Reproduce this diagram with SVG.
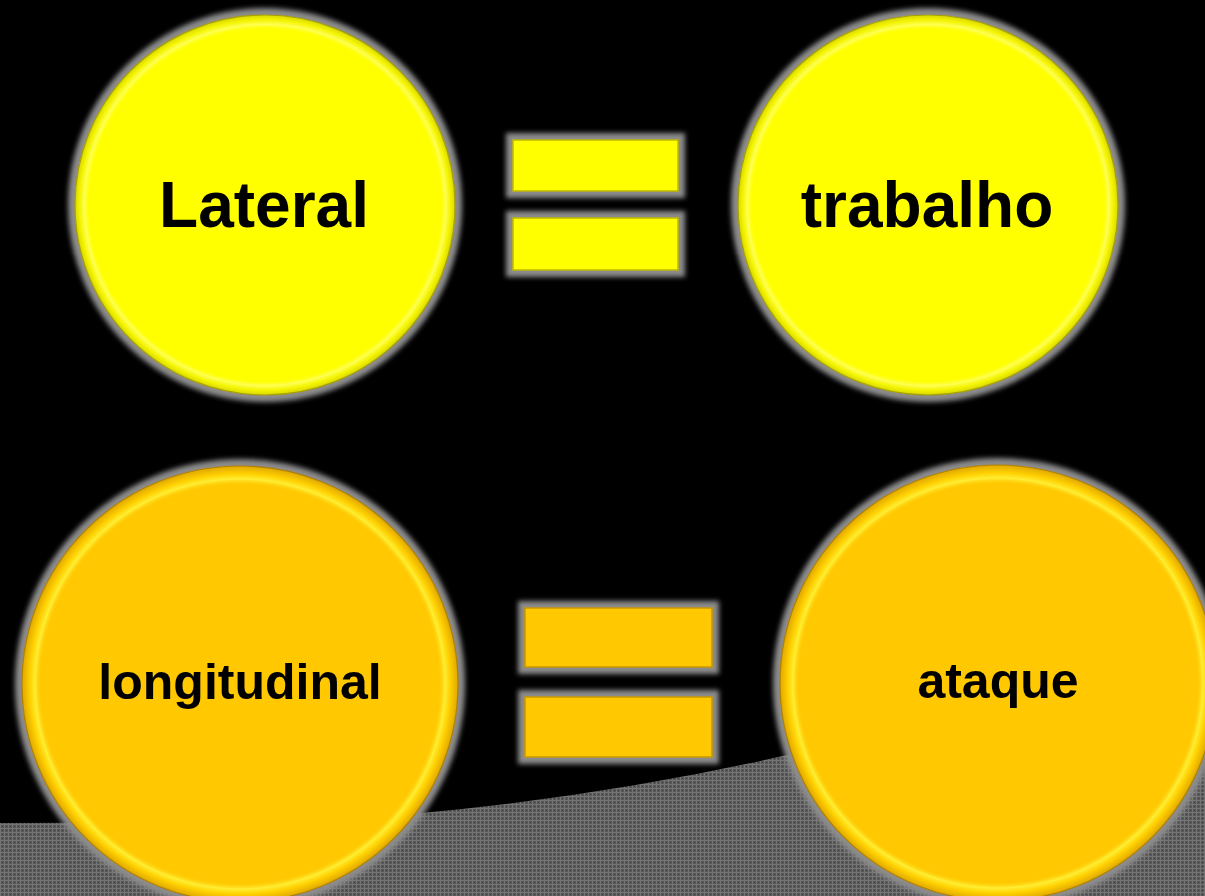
<svg xmlns="http://www.w3.org/2000/svg" width="1205" height="896" viewBox="0 0 1205 896">
  <defs>
    <pattern id="grid" width="4" height="4" patternUnits="userSpaceOnUse">
      <rect width="4" height="4" fill="#585858"/>
      <rect x="0" y="0" width="4" height="1" fill="#747474"/>
      <rect x="0" y="0" width="1" height="4" fill="#747474"/>
      <rect x="2" y="2" width="1" height="1" fill="#3c3c3c"/>
    </pattern>
    <filter id="glow" x="-20%" y="-20%" width="140%" height="140%">
      <feGaussianBlur stdDeviation="2.5"/>
    </filter>
    <radialGradient id="rimY" cx="0.5" cy="0.5" r="0.5">
      <stop offset="0.92" stop-color="#ffff00" stop-opacity="0"/>
      <stop offset="0.95" stop-color="#ffff55"/>
      <stop offset="0.975" stop-color="#f4f400"/>
      <stop offset="1" stop-color="#d8d800"/>
    </radialGradient>
    <radialGradient id="rimO" cx="0.5" cy="0.5" r="0.5">
      <stop offset="0.91" stop-color="#ffc800" stop-opacity="0"/>
      <stop offset="0.94" stop-color="#ffee33"/>
      <stop offset="0.965" stop-color="#ffd000"/>
      <stop offset="1" stop-color="#e0a800"/>
    </radialGradient>
    <style>
      .glow { fill: #8c8c8c; filter: url(#glow); }
      .lbl { font-family: "Liberation Sans", Arial, sans-serif; font-weight: bold; fill: #000; text-anchor: middle; }
      .y { fill: #ffff00; }
      .o { fill: #ffc800; }
      .edgeY { fill: none; stroke: #a8a000; stroke-width: 1.2; }
      .edgeO { fill: none; stroke: #b08000; stroke-width: 1.2; }
      .barY { fill: #ffff00; stroke: #c0b800; stroke-width: 1.5; }
      .barO { fill: #ffc800; stroke: #c89800; stroke-width: 1.5; }
    </style>
  </defs>

  <rect width="1205" height="896" fill="#000"/>
  <path id="ground" d="M0,823 L300,822 Q560,808 800,752 L1205,640 L1205,896 L0,896 Z" fill="url(#grid)"/>

  <g id="node-lateral">
    <circle class="glow" cx="265" cy="205" r="197"/>
    <circle class="y" cx="265" cy="205" r="190"/>
    <circle cx="265" cy="205" r="190" fill="url(#rimY)"/>
    <circle class="edgeY" cx="265" cy="205" r="190"/>
    <text class="lbl" x="264" y="227" font-size="64">Lateral</text>
  </g>

  <g id="node-trabalho">
    <circle class="glow" cx="928" cy="205" r="197"/>
    <circle class="y" cx="928" cy="205" r="190"/>
    <circle cx="928" cy="205" r="190" fill="url(#rimY)"/>
    <circle class="edgeY" cx="928" cy="205" r="190"/>
    <text class="lbl" x="927" y="227" font-size="64">trabalho</text>
  </g>

  <g id="node-longitudinal">
    <circle class="glow" cx="240" cy="684" r="225"/>
    <circle class="o" cx="240" cy="684" r="218"/>
    <circle cx="240" cy="684" r="218" fill="url(#rimO)"/>
    <circle class="edgeO" cx="240" cy="684" r="218"/>
    <text class="lbl" x="240" y="699" font-size="50">longitudinal</text>
  </g>

  <g id="node-ataque">
    <circle class="glow" cx="998" cy="683" r="225"/>
    <circle class="o" cx="998" cy="683" r="218"/>
    <circle cx="998" cy="683" r="218" fill="url(#rimO)"/>
    <circle class="edgeO" cx="998" cy="683" r="218"/>
    <text class="lbl" x="998" y="698" font-size="50">ataque</text>
  </g>

  <g id="connectors">
    <g id="equals-top">
      <rect class="glow" x="506" y="133" width="179" height="65"/>
      <rect class="glow" x="506" y="211" width="179" height="66"/>
      <rect class="barY" x="513" y="140" width="165" height="51"/>
      <rect class="barY" x="513" y="218" width="165" height="52"/>
    </g>
    <g id="equals-bottom">
      <rect class="glow" x="518" y="601" width="201" height="73"/>
      <rect class="glow" x="518" y="690" width="201" height="74"/>
      <rect class="barO" x="525" y="608" width="187" height="59"/>
      <rect class="barO" x="525" y="697" width="187" height="60"/>
    </g>
  </g>
</svg>
